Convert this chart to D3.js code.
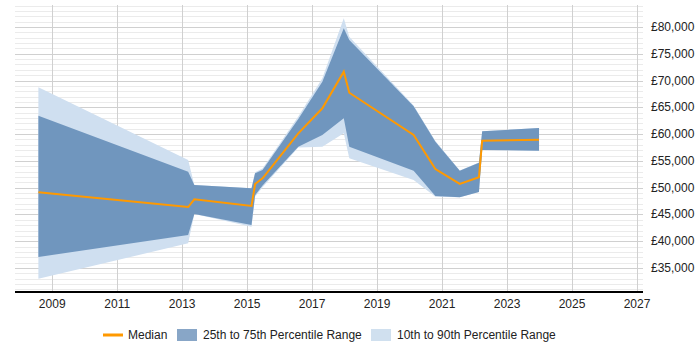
<!DOCTYPE html>
<html>
<head>
<meta charset="utf-8">
<script src="https://cdn.jsdelivr.net/npm/d3@7"></script>
<style>
  body { margin: 0; background: #fff; }
  svg text { font-family: Arial, "Liberation Sans", sans-serif; }
</style>
</head>
<body>
<div id="chart" style="width:700px;height:350px"></div>
<script>
// Time points (fractional years) and percentile values
const years  = [2008.59, 2013.2, 2013.39, 2015.15, 2015.26, 2015.49, 2016.59, 2017.33, 2017.99, 2018.16, 2020.14, 2020.81, 2021.56, 2022.15, 2022.25, 2024.0];
const median = [49135, 46390, 47830, 46580, 50690, 51750, 60150, 64820, 71660, 67730, 59840, 53490, 50690, 51940, 58770, 58960];
const p25    = [37057, 41150, 45090, 43030, 48600, 50400, 57650, 59840, 62950, 57650, 53170, 48450, 48200, 49190, 57040, 56910];
const p75    = [63440, 52985, 50500, 49884, 52685, 53300, 62800, 69790, 79760, 77570, 65200, 58590, 53170, 54670, 60530, 61140];
const p10    = [33010, 39600, 45090, 42700, 48300, 50100, 57500, 57650, 60150, 55480, 51430, 48300, 48200, 49190, 57040, 56910];
const p90    = [68740, 55170, 50500, 49900, 52900, 53600, 63300, 70420, 81620, 78190, 65350, 58700, 53200, 54700, 60530, 61140];

const xTicks = [2009, 2011, 2013, 2015, 2017, 2019, 2021, 2023, 2025, 2027];
const yTicks = [35000, 40000, 45000, 50000, 55000, 60000, 65000, 70000, 75000, 80000];
const legendItems = ['Median', '25th to 75th Percentile Range', '10th to 90th Percentile Range'];

function renderChart(elementId) {
    const container = document.getElementById(elementId);
    const width = 700, height = 350;
    const margin = { top: 5, right: 57, bottom: 58, left: 15 };

    const svg = d3.select(container)
        .append('svg')
        .attr('width', width)
        .attr('height', height);

    const x = d3.scaleLinear()
        .domain([2007.87, 2027.2])
        .range([margin.left, width - margin.right]);

    const y = d3.scaleLinear()
        .domain([30519, 84108])
        .range([height - margin.bottom, margin.top]);

    const data = years.map((yr, i) => ({
        year: yr, median: median[i], p10: p10[i], p25: p25[i], p75: p75[i], p90: p90[i]
    }));

    // Horizontal grid (minor every 1000, major every 5000)
    const gridVals = d3.range(31000, 84001, 1000);
    svg.selectAll('.hgrid')
        .data(gridVals)
        .enter()
        .append('line')
        .attr('x1', margin.left)
        .attr('x2', width - margin.right)
        .attr('y1', d => Math.round(y(d)) + 0.5)
        .attr('y2', d => Math.round(y(d)) + 0.5)
        .attr('stroke', d => d % 5000 === 0 ? '#d0d0d0' : '#ebebeb')
        .attr('stroke-width', 1);

    // Vertical grid
    svg.selectAll('.vgrid')
        .data(xTicks)
        .enter()
        .append('line')
        .attr('x1', d => Math.round(x(d)) + 0.5)
        .attr('x2', d => Math.round(x(d)) + 0.5)
        .attr('y1', margin.top)
        .attr('y2', height - margin.bottom)
        .attr('stroke', '#d0d0d0')
        .attr('stroke-width', 1);

    // Bands
    const band = (lo, hi) => d3.area()
        .x(d => x(d.year))
        .y0(d => y(d[lo]))
        .y1(d => y(d[hi]));

    svg.append('path')
        .datum(data)
        .attr('fill', '#cfdff0')
        .attr('d', band('p10', 'p90'));

    svg.append('path')
        .datum(data)
        .attr('fill', '#7096be')
        .attr('d', band('p25', 'p75'));

    // Median line
    const line = d3.line()
        .x(d => x(d.year))
        .y(d => y(d.median));

    svg.append('path')
        .datum(data)
        .attr('fill', 'none')
        .attr('stroke', '#ff9900')
        .attr('stroke-width', 2)
        .attr('d', line);

    // X axis
    const xAxis = svg.append('g')
        .attr('transform', `translate(0,${height - margin.bottom})`)
        .call(d3.axisBottom(x).tickValues(xTicks).tickFormat(d3.format('d')).tickSize(0).tickPadding(7));
    xAxis.select('.domain').attr('stroke', '#000').attr('stroke-width', 2).attr('d', `M${margin.left},0H${width - margin.right}`);
    xAxis.selectAll('.tick text').attr('font-size', '12px').attr('fill', '#222').attr('font-family', 'Arial, "Liberation Sans", sans-serif');

    // Y labels
    const fmt = d3.format(',');
    svg.selectAll('.ylab')
        .data(yTicks)
        .enter()
        .append('text')
        .attr('x', width - margin.right + 8)
        .attr('y', d => y(d) + 4)
        .attr('font-size', '12px')
        .attr('fill', '#222')
        .text(d => '£' + fmt(d));

    // Legend
    const ly = 335;
    svg.append('line')
        .attr('x1', 103).attr('x2', 123)
        .attr('y1', ly).attr('y2', ly)
        .attr('stroke', '#ff9900').attr('stroke-width', 3);
    svg.append('text').attr('x', 128).attr('y', ly + 4).attr('font-size', '12px').attr('fill', '#222').text(legendItems[0]);

    svg.append('rect').attr('x', 177).attr('y', 329).attr('width', 20).attr('height', 12).attr('fill', '#88a6c7');
    svg.append('text').attr('x', 203).attr('y', ly + 4).attr('font-size', '12px').attr('fill', '#222').text(legendItems[1]);

    svg.append('rect').attr('x', 371).attr('y', 329).attr('width', 20).attr('height', 12).attr('fill', '#d0e0ef');
    svg.append('text').attr('x', 397).attr('y', ly + 4).attr('font-size', '12px').attr('fill', '#222').text(legendItems[2]);
}

renderChart('chart');
</script>
</body>
</html>
